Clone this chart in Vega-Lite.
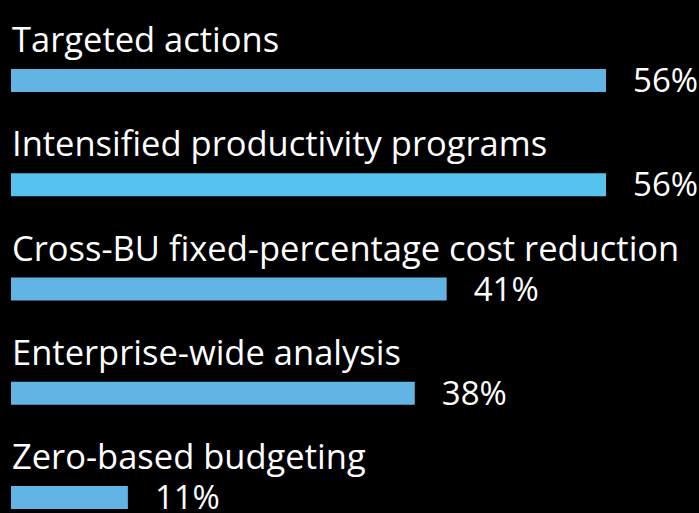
{
  "$schema": "https://vega.github.io/schema/vega-lite/v6.json",
  "width": 688,
  "height": 513,
  "autosize": "none",
  "padding": {"left": 11, "top": 0, "right": 0, "bottom": 0},
  "background": "#000000",
  "config": {"view": {"stroke": null}},
  "data": {
    "values": [
      {"category": "Targeted actions", "value": 0.56},
      {"category": "Intensified productivity programs", "value": 0.56},
      {"category": "Cross-BU fixed-percentage cost reduction", "value": 0.41},
      {"category": "Enterprise-wide analysis", "value": 0.38},
      {"category": "Zero-based budgeting", "value": 0.11}
    ]
  },
  "encoding": {
    "y": {
      "field": "category",
      "type": "nominal",
      "sort": null,
      "axis": null,
      "scale": {"range": [28.4, 549.6], "paddingInner": 0, "paddingOuter": 0}
    }
  },
  "layer": [
    {
      "mark": {"type": "bar", "height": 23},
      "encoding": {
        "x": {"field": "value", "type": "quantitative", "axis": null, "scale": {"domain": [0, 0.6475], "nice": false, "zero": true}},
        "color": {
          "condition": {"test": "datum.category === 'Intensified productivity programs'", "value": "#55C3EE"},
          "value": "#62B4E4"
        }
      }
    },
    {
      "mark": {"type": "text", "align": "left", "baseline": "alphabetic", "dy": -28.5, "font": "Open Sans", "fontSize": 34.5, "color": "#FFFFFF", "x": 1},
      "encoding": {
        "text": {"field": "category", "type": "nominal"}
      }
    },
    {
      "mark": {"type": "text", "align": "left", "baseline": "alphabetic", "dx": 27, "dy": 11.5, "font": "Open Sans", "fontSize": 33, "color": "#FFFFFF", "clip": false},
      "encoding": {
        "x": {"field": "value", "type": "quantitative"},
        "text": {"field": "value", "type": "quantitative", "format": ".0%"}
      }
    }
  ]
}
